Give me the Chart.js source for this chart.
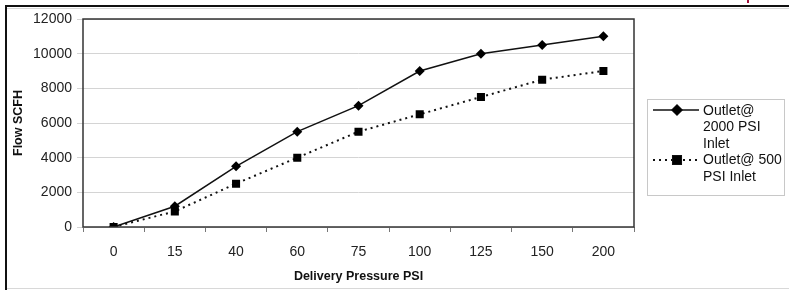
<!DOCTYPE html>
<html>
<head>
<meta charset="utf-8">
<script src="https://cdn.jsdelivr.net/npm/chart.js@4/dist/chart.umd.min.js"></script>
<style>
  html, body { margin: 0; padding: 0; background: #fff; }
  #wrap { width: 789px; height: 290px; position: relative; }
</style>
</head>
<body>
<div id="wrap"><canvas id="flow-chart" width="789" height="290"></canvas></div>
<script>
// Delivery pressure categories and flow values
const pressures = ["0", "15", "40", "60", "75", "100", "125", "150", "200"];
const outlet2000 = [0, 1200, 3500, 5500, 7000, 9000, 10000, 10500, 11000];
const outlet500 = [0, 900, 2500, 4000, 5500, 6500, 7500, 8500, 9000];
const legend2000 = ["Outlet@", "2000 PSI", "Inlet"];
const legend500 = ["Outlet@ 500", "PSI Inlet"];
const yTicks = [0, 2000, 4000, 6000, 8000, 10000, 12000];

const FONT = "'Liberation Sans', Arial, sans-serif";

// page frame, plot border and hand drawn legend
const framePlugin = {
  id: "frame",
  beforeDraw(chart) {
    const ctx = chart.ctx;
    ctx.save();
    ctx.fillStyle = "#fff";
    ctx.fillRect(0, 0, chart.width, chart.height);
    ctx.fillStyle = "#111";
    ctx.fillRect(5, 5, chart.width - 5, 2);
    ctx.fillRect(5, 5, 2, chart.height - 5);
    ctx.fillStyle = "#d8d8d8";
    ctx.fillRect(7, 8, chart.width - 7, 1);
    ctx.fillRect(7, 288, chart.width - 7, 1);
    ctx.fillStyle = "#a0103a";
    ctx.fillRect(747, 0, 2, 3);
    ctx.restore();
  },
  afterDatasetsDraw(chart) {
    const ctx = chart.ctx;
    const a = chart.chartArea;
    ctx.save();
    ctx.strokeStyle = "#333";
    ctx.lineWidth = 1.5;
    ctx.strokeRect(a.left, a.top, a.right - a.left, a.bottom - a.top);
    ctx.restore();
  },
  afterDraw(chart) {
    const ctx = chart.ctx;
    ctx.save();
    ctx.strokeStyle = "#c8c8c8";
    ctx.lineWidth = 1;
    ctx.strokeRect(647.5, 99.5, 137, 96);

    const rows = [
      { ds: chart.data.datasets[0], y: 110, lines: legend2000 },
      { ds: chart.data.datasets[1], y: 160, lines: legend500 },
    ];
    ctx.font = "14px " + FONT;
    ctx.fillStyle = "#111";
    ctx.textBaseline = "middle";
    ctx.textAlign = "left";
    let ty = 111;
    rows.forEach((r) => {
      const ds = r.ds;
      ctx.strokeStyle = ds.borderColor;
      ctx.lineWidth = ds.borderWidth;
      ctx.setLineDash(ds.borderDash || []);
      ctx.beginPath();
      ctx.moveTo(653, r.y);
      ctx.lineTo(699, r.y);
      ctx.stroke();
      ctx.setLineDash([]);
      Chart.helpers.drawPoint(ctx, {
        pointStyle: ds.pointStyle,
        radius: ds.pointRadius,
        rotation: 0,
        borderWidth: 1,
      }, 677, r.y);
      ctx.fillStyle = "#000";
      ctx.fill();
      ctx.fillStyle = "#111";
      r.lines.forEach((t) => {
        ctx.fillText(t, 703, ty);
        ty += 16.5;
      });
    });
    ctx.restore();
  },
};

new Chart(document.getElementById("flow-chart"), {
  type: "line",
  data: {
    labels: pressures,
    datasets: [
      {
        label: legend2000.join(" "),
        data: outlet2000,
        borderColor: "#111",
        backgroundColor: "#000",
        borderWidth: 1.5,
        pointStyle: "rectRot",
        pointRadius: 5,
        pointBorderWidth: 0,
        tension: 0,
      },
      {
        label: legend500.join(" "),
        data: outlet500,
        borderColor: "#111",
        backgroundColor: "#000",
        borderWidth: 2,
        borderDash: [2, 4],
        pointStyle: "rect",
        pointRadius: 5.7,
        pointBorderWidth: 0,
        tension: 0,
      },
    ],
  },
  options: {
    responsive: false,
    animation: false,
    events: [],
    layout: { padding: { left: 0, top: 19, right: 155, bottom: 0 } },
    plugins: { legend: { display: false }, tooltip: { enabled: false } },
    scales: {
      x: {
        type: "category",
        offset: true,
        afterFit(scale) { scale.height = 63; },
        grid: {
          offset: true,
          drawOnChartArea: false,
          drawTicks: true,
          tickLength: 5,
          color: "#777",
        },
        border: { display: false },
        ticks: { color: "#222", font: { family: FONT, size: 14 }, padding: 12, maxRotation: 0 },
        title: {
          display: true,
          text: "Delivery Pressure PSI",
          color: "#111",
          font: { family: FONT, size: 12.5, weight: "bold" },
          padding: { top: 0, bottom: 6 },
        },
      },
      y: {
        min: 0,
        max: 12000,
        afterFit(scale) { scale.width = 83; },
        afterBuildTicks(scale) { scale.ticks = yTicks.map((v) => ({ value: v })); },
        grid: { color: "#d4d4d4", lineWidth: 1, tickLength: 6, drawTicks: true },
        border: { display: false },
        ticks: {
          color: "#222",
          font: { family: FONT, size: 14 },
          padding: 5,
          callback: (v) => String(v),
        },
        title: {
          display: true,
          text: "Flow SCFH",
          color: "#111",
          font: { family: FONT, size: 12.5, weight: "bold" },
          padding: { top: 11, bottom: 0 },
        },
      },
    },
  },
  plugins: [framePlugin],
});
</script>
</body>
</html>
